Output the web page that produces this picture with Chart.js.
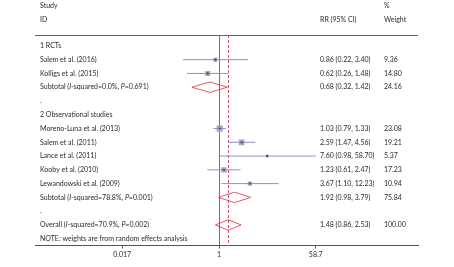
<!DOCTYPE html>
<html><head><meta charset="utf-8">
<script src="https://cdn.jsdelivr.net/npm/chart.js@4"></script>
<style>html,body{margin:0;padding:0;background:#fff}canvas{display:block}</style>
</head><body>
<canvas id="c" width="454" height="267"></canvas>
<script>
// ---- data ----
const studies = ['Salem et al. (2016)', 'Kolligs et al. (2015)', 'Moreno-Luna et al. (2013)', 'Salem et al. (2011)', 'Lance et al. (2011)', 'Kooby et al. (2010)', 'Lewandowski et al. (2009)'];
const studyRows = [1, 2, 6, 7, 8, 9, 10];
const rr = [0.86, 0.62, 1.03, 2.59, 7.60, 1.23, 3.67];
const lower = [0.22, 0.26, 0.79, 1.47, 0.98, 0.61, 1.10];
const upper = [3.40, 1.48, 1.33, 4.56, 58.70, 2.47, 12.23];
const weights = [9.36, 14.80, 23.08, 19.21, 5.37, 17.23, 10.94];

const pooledNames = ['Subtotal (*I*-squared=0.0%, *P*=0.691)', 'Subtotal (*I*-squared=78.8%, *P*=0.001)', 'Overall (*I*-squared=70.9%, *P*=0.002)'];
const pooledRows = [3, 11, 13];
const pooledRR = [0.68, 1.92, 1.48];
const pooledLower = [0.32, 0.98, 0.86];
const pooledUpper = [1.42, 3.79, 2.53];
const pooledWeight = [24.16, 75.84, 100.00];

const headingLabels = ['1 RCTs', '.', '2 Observational studies', '.', 'NOTE: weights are from random effects analysis'];
const headingRows = [0, 4, 5, 12, 14];

const tickValues = [0.017, 1, 58.7];
const tickLabels = ['0.017', '1', '58.7'];
const nullValue = 1;
const overallValue = 1.48;

// ---- styling ----
const FF = 'Lato, "Open Sans", sans-serif';
const FS = 7;
const TXT = '#2a2a2a';

function drawRich(ctx, str, x, y) {
  const parts = str.split('*');
  let cx = x;
  parts.forEach((p, i) => {
    ctx.font = (i % 2 ? 'italic ' : '') + FS + 'px ' + FF;
    ctx.fillText(p, cx, y);
    cx += ctx.measureText(p).width;
  });
}

const forestPlugin = {
  id: 'forest',
  beforeDatasetsDraw(chart) {
    const {ctx, chartArea: a, scales: {x}} = chart;
    ctx.save();
    ctx.lineWidth = 1;
    ctx.strokeStyle = '#3c9a3c';
    const xn = Math.round(x.getPixelForValue(nullValue)) + 0.5;
    ctx.beginPath(); ctx.moveTo(xn, a.top); ctx.lineTo(xn, a.bottom); ctx.stroke();
    ctx.strokeStyle = '#d4506a';
    ctx.setLineDash([3, 2]);
    const xo = Math.round(x.getPixelForValue(overallValue)) + 0.5;
    ctx.beginPath(); ctx.moveTo(xo, a.top); ctx.lineTo(xo, a.bottom); ctx.stroke();
    ctx.restore();
  },
  afterDraw(chart) {
    const {ctx, chartArea: a, scales: {y}} = chart;
    ctx.save();
    // top rule
    ctx.strokeStyle = '#666';
    ctx.lineWidth = 1;
    ctx.beginPath(); ctx.moveTo(a.left, Math.round(a.top) + 0.5); ctx.lineTo(a.right, Math.round(a.top) + 0.5); ctx.stroke();
    ctx.fillStyle = TXT;
    ctx.textBaseline = 'middle';
    ctx.textAlign = 'left';
    ctx.font = FS + 'px ' + FF;
    const xName = a.left + 5, xRR = 320, xW = 384;
    ctx.fillText('Study', xName, 6);
    ctx.fillText('ID', xName, 20);
    ctx.fillText('%', xW, 6);
    ctx.fillText('RR (95% CI)', xRR, 20);
    ctx.fillText('Weight', xW, 20);
    headingLabels.forEach((t, i) => { ctx.font = FS + 'px ' + FF; ctx.fillText(t, xName, y.getPixelForValue(headingRows[i])); });
    studies.forEach((t, i) => {
      const yy = y.getPixelForValue(studyRows[i]);
      ctx.font = FS + 'px ' + FF;
      ctx.fillText(t, xName, yy);
      ctx.fillText(`${rr[i].toFixed(2)} (${lower[i].toFixed(2)}, ${upper[i].toFixed(2)})`, xRR, yy);
      ctx.fillText(weights[i].toFixed(2), xW, yy);
    });
    pooledNames.forEach((t, i) => {
      const yy = y.getPixelForValue(pooledRows[i]);
      drawRich(ctx, t, xName, yy);
      ctx.font = FS + 'px ' + FF;
      ctx.fillText(`${pooledRR[i].toFixed(2)} (${pooledLower[i].toFixed(2)}, ${pooledUpper[i].toFixed(2)})`, xRR, yy);
      ctx.fillText(pooledWeight[i].toFixed(2), xW, yy);
    });
    ctx.restore();
  }
};

const datasets = [];
// centre dots
datasets.push({type: 'scatter', data: rr.map((v, i) => ({x: v, y: studyRows[i]})),
  pointStyle: 'circle', pointRadius: 1.1, backgroundColor: '#8a2a58', borderWidth: 0, order: 1});
// weighted boxes
datasets.push({type: 'scatter', data: rr.map((v, i) => ({x: v, y: studyRows[i]})),
  pointStyle: 'rect', pointRadius: c => 1.3 * Math.sqrt(weights[c.dataIndex]) / Math.SQRT2 * 1.0,
  backgroundColor: '#aca4c6', borderWidth: 0, order: 3});
// CI lines
studies.forEach((s, i) => datasets.push({type: 'line',
  data: [{x: lower[i], y: studyRows[i]}, {x: upper[i], y: studyRows[i]}],
  borderColor: '#8f8fc8', borderWidth: 1, pointRadius: 0, fill: false, order: 2}));
// diamonds
const dh = 0.38;
pooledRR.forEach((v, i) => datasets.push({type: 'line',
  data: [{x: pooledLower[i], y: pooledRows[i]}, {x: v, y: pooledRows[i] - dh}, {x: pooledUpper[i], y: pooledRows[i]}, {x: v, y: pooledRows[i] + dh}, {x: pooledLower[i], y: pooledRows[i]}],
  borderColor: '#e0303a', borderWidth: 0.8, pointRadius: 0, fill: false, tension: 0, order: 2}));

new Chart(document.getElementById('c'), {
  data: {datasets},
  options: {
    responsive: false, animation: false, devicePixelRatio: 1,
    layout: {padding: {left: 35, right: 36, top: 35, bottom: 6}},
    plugins: {legend: {display: false}, tooltip: {enabled: false}},
    scales: {
      x: {type: 'logarithmic', min: Math.pow(10, -3.364), max: Math.pow(10, 3.638),
        afterBuildTicks: s => { s.ticks = tickValues.map(v => ({value: v})); },
        ticks: {callback: (v, i) => tickLabels[i], autoSkip: false, maxRotation: 0, padding: 2,
          font: {family: FF, size: FS}, color: TXT},
        grid: {display: true, drawOnChartArea: false, drawTicks: true, tickLength: 3, color: '#555'},
        border: {display: true, color: '#555', width: 1}},
      y: {type: 'linear', min: -0.79, max: 14.5, reverse: true, display: false}
    }
  },
  plugins: [forestPlugin]
});
</script>
</body></html>
